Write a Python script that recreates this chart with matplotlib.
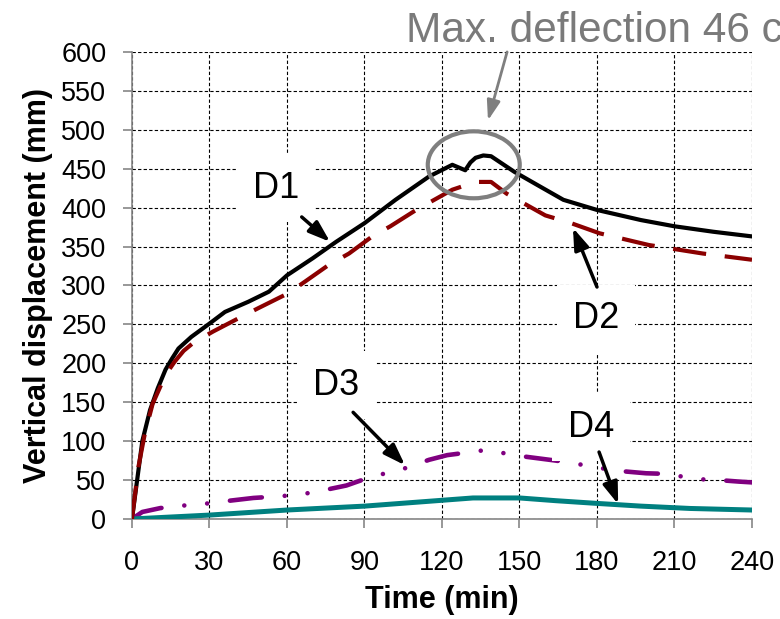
import numpy as np
import matplotlib
matplotlib.use("Agg")
import matplotlib.pyplot as plt
from matplotlib.patches import Ellipse

plt.rcParams['font.family'] = ['Liberation Sans', 'DejaVu Sans']

# deflection readings (time in min, displacement in mm)
t_d1 = [0, 1, 2, 4, 7, 10, 13, 15.5, 18, 23, 30, 36, 45, 53, 60, 70, 79, 90,
        102, 115, 124, 129, 131, 133, 136, 139, 148, 158, 167, 180, 197, 210,
        225, 240]
d1 = [0, 25, 50, 100, 140, 168, 192, 206, 219, 234, 251, 266, 279, 292, 313,
      335, 356, 380, 410, 440, 455, 448, 458, 464, 467, 466, 446, 427, 410,
      397, 384, 376, 369, 363]

t_d2 = [0, 2.5, 5, 8, 11.5, 14, 16.5, 20, 24, 31.5, 42.5, 49, 60.5, 67, 76, 84,
        93, 100, 110, 117, 124, 133, 139, 145, 153, 160, 170, 181, 200, 221, 240]
d2 = [0, 67, 110, 148, 174, 190, 202, 216, 227, 241, 260, 271, 290, 305, 326,
      341, 363, 376, 397, 410, 423, 433, 433, 418, 403, 390, 380, 367, 352,
      341, 333]

t_d3 = [0, 4, 11, 19, 27, 34, 47, 55, 62, 70, 83, 89, 96, 103, 115, 122, 129,
        137, 150, 157, 164, 171, 182, 191, 199, 206, 220, 227, 235, 240]
d3 = [0, 9, 14, 17, 19, 22, 27, 28.7, 30.4, 34, 43, 50, 57, 62, 76, 82, 85,
      88.6, 81, 78, 75, 71.5, 65, 61, 58.7, 58, 51, 50, 48, 47]

t_d4 = [0, 30, 60, 90, 120, 132, 150, 164, 180, 197, 216, 240]
d4 = [0, 5, 11.5, 16.5, 24, 27, 27, 23.5, 20, 16.5, 13.5, 11.5]

x_ticks = list(range(0, 241, 30))
y_ticks = list(range(0, 601, 50))

fig = plt.figure(figsize=(7.8, 6.19), dpi=100)
ax = fig.add_axes([0.1692, 0.1616, 0.7949, 0.7545])

ax.plot(t_d1, d1, color='black', lw=3, solid_capstyle='round',
        solid_joinstyle='round', zorder=3)
ln2, = ax.plot(t_d2, d2, color='#8b0000', lw=3, zorder=4)
ln2.set_dashes((8, 4.5))
ln3, = ax.plot(t_d3, d3, color='#800080', lw=3.3, dash_capstyle='round', zorder=3)
ln3.set_dashes((7, 5, 0.01, 5, 0.01, 5))
ax.plot(t_d4, d4, color='#008080', lw=3.6, zorder=3)

ax.set_xlim(0, 240)
ax.set_ylim(0, 600)
ax.set_xticks(x_ticks)
ax.set_yticks(y_ticks)
ax.grid(True, color='black', lw=0.8, linestyle=(0, (3, 2)), zorder=0)
ax.set_axisbelow(True)

for s in ['top', 'right']:
    ax.spines[s].set_visible(False)
for s in ['left', 'bottom']:
    ax.spines[s].set_color('#868686')
    ax.spines[s].set_linewidth(1.2)

ax.tick_params(axis='both', direction='out', length=6.5, width=1.2,
               color='#868686', labelsize=19.5)
ax.tick_params(axis='x', pad=16)
ax.tick_params(axis='y', pad=12)

ax.set_xlabel('Time (min)', fontsize=22, fontweight='bold', labelpad=6)
ax.set_ylabel('Vertical displacement (mm)', fontsize=22, fontweight='bold',
              labelpad=6)

box = dict(boxstyle='square,pad=0.45', fc='white', ec='none')
arrow = dict(arrowstyle='-|>,head_length=1.3,head_width=0.45', color='black',
             lw=2.5, shrinkA=0, shrinkB=0)

ax.annotate('', xy=(76.7, 356), xytext=(65.7, 388), arrowprops=arrow, zorder=6)
ax.text(55.7, 425, 'D1', fontsize=26, ha='center', va='center', bbox=box, zorder=5)

ax.annotate('', xy=(170.7, 374), xytext=(180, 298), arrowprops=arrow, zorder=6)
ax.text(179.6, 257, 'D2', fontsize=26, ha='center', va='center', bbox=box, zorder=5)

ax.annotate('', xy=(105.7, 69), xytext=(85.6, 137), arrowprops=arrow, zorder=6)
ax.text(79, 172, 'D3', fontsize=26, ha='center', va='center', bbox=box, zorder=5)

ax.annotate('', xy=(188.2, 19), xytext=(180.8, 86), arrowprops=arrow, zorder=6)
ax.text(177.7, 118, 'D4', fontsize=26, ha='center', va='center', bbox=box, zorder=5)

# circle around the peak and the callout above the plot
ax.add_patch(Ellipse((132.3, 455), 35.6, 86, fill=False, ec='#7f7f7f', lw=3,
                     zorder=5))
ax.annotate('', xy=(137.8, 512), xytext=(145.2, 600),
            arrowprops=dict(arrowstyle='-|>,head_length=1.2,head_width=0.4',
                            color='#7f7f7f', lw=2, shrinkA=0, shrinkB=0),
            annotation_clip=False, zorder=6)
fig.text(0.52, 0.932, 'Max. deflection 46 cm', fontsize=30.5, color='#7a7a7a',
         ha='left', va='baseline')

fig.savefig('out.png', dpi=100)
